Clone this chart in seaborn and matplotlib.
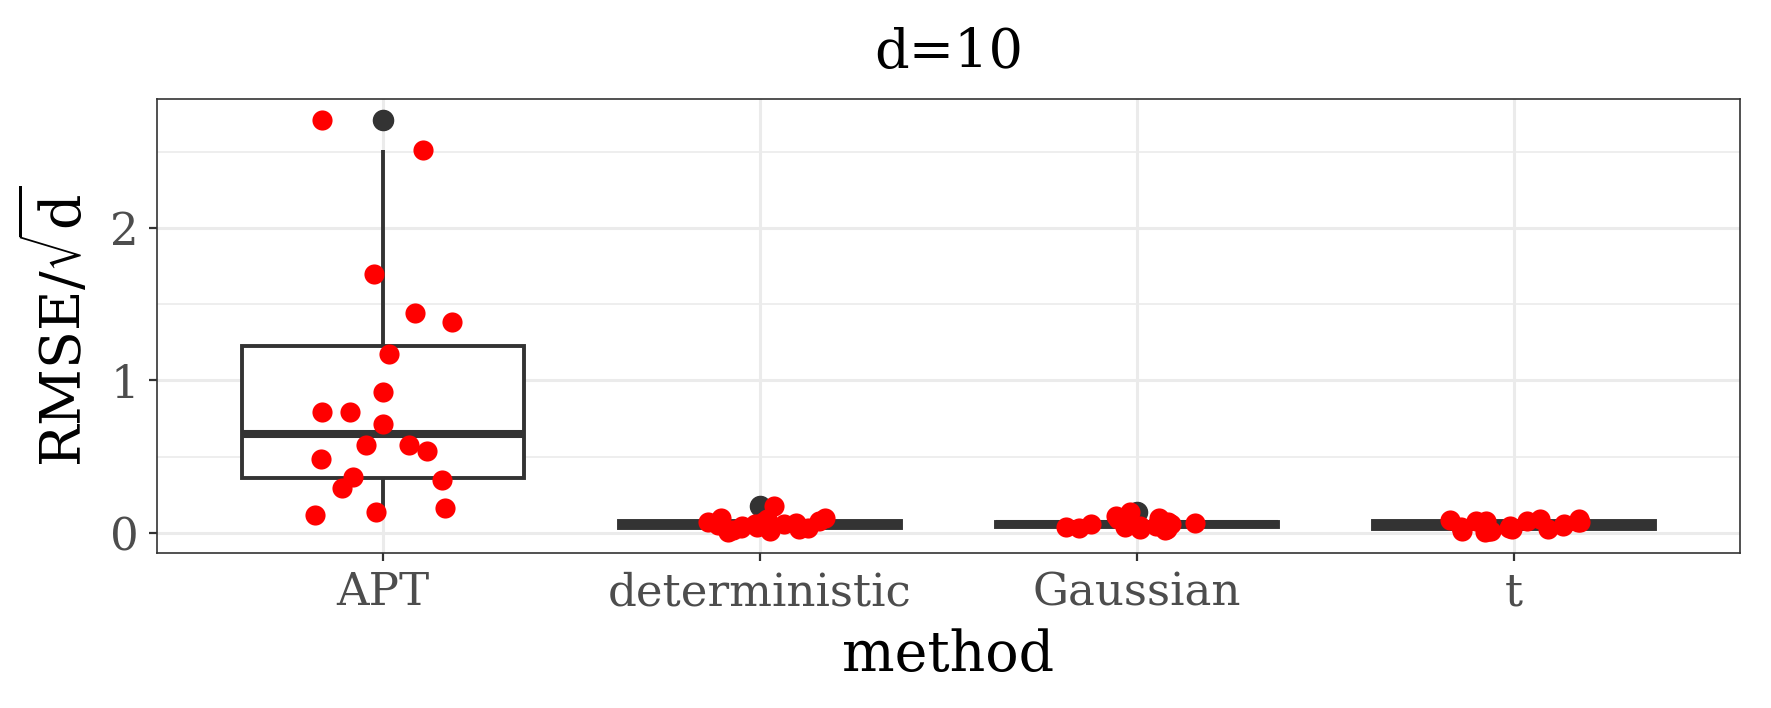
import numpy as np
import pandas as pd
import matplotlib
matplotlib.use("Agg")
import matplotlib.pyplot as plt
import seaborn as sns

# ---- data ----
methods = ["APT", "deterministic", "Gaussian", "t"]
apt_vals = [2.71, 2.51, 1.70, 1.44, 1.38, 1.176, 0.922, 0.79, 0.79, 0.716,
            0.58, 0.536, 0.575, 0.488, 0.369, 0.347, 0.293, 0.137, 0.167, 0.119]
det_vals = [0.175, 0.10, 0.10, 0.091, 0.08, 0.074, 0.069, 0.065, 0.06, 0.059,
            0.055, 0.05, 0.048, 0.04, 0.035, 0.03, 0.026, 0.02, 0.015, 0.005]
gau_vals = [0.137, 0.113, 0.10, 0.091, 0.075, 0.069, 0.069, 0.065, 0.062, 0.059,
            0.059, 0.055, 0.048, 0.045, 0.04, 0.037, 0.032, 0.026, 0.026, 0.022]
t_vals = [0.091, 0.091, 0.085, 0.08, 0.08, 0.08, 0.075, 0.069, 0.06, 0.048,
          0.048, 0.04, 0.037, 0.03, 0.026, 0.026, 0.015, 0.015, 0.01, 0.004]
title_text = "d=10"
x_label = "method"
y_label = r"$\mathrm{RMSE}/\sqrt{\mathrm{d}}$"
y_ticks = [0, 1, 2]
y_minor = [0.5, 1.5, 2.5]

df = pd.DataFrame({
    "method": sum([[m] * len(v) for m, v in zip(methods, [apt_vals, det_vals, gau_vals, t_vals])], []),
    "value": apt_vals + det_vals + gau_vals + t_vals,
})

# ---- style ----
sns.set_theme(style="white")
plt.rcParams["font.family"] = ["DejaVu Serif"]
plt.rcParams["mathtext.fontset"] = "dejavuserif"

dark = "#333333"
grid_col = "#EBEBEB"

fig = plt.figure(figsize=(17.71, 7.08), dpi=100)
ax = fig.add_axes([157 / 1771, 1 - 553 / 708, (1740 - 157) / 1771, (553 - 99) / 708])

sns.boxplot(data=df, x="method", y="value", order=methods, ax=ax,
            width=0.75, color="white", linecolor=dark, linewidth=2.8,
            showcaps=False, whis=1.5, fliersize=14.5,
            flierprops=dict(marker="o", markerfacecolor=dark, markeredgecolor=dark),
            medianprops=dict(linewidth=5.8, color=dark),
            zorder=2)

np.random.seed(7)
sns.stripplot(data=df, x="method", y="value", order=methods, ax=ax,
              color="red", size=14.5, linewidth=0, jitter=0.19, zorder=5)

# limits like ggplot's expansion
vmin, vmax = min(df["value"]), max(df["value"])
pad = 0.05 * (vmax - vmin)
ax.set_ylim(vmin - pad, vmax + pad)
ax.set_xlim(-0.6, len(methods) - 0.4)

ax.set_yticks(y_ticks)
ax.set_yticklabels([str(v) for v in y_ticks])
ax.set_yticks(y_minor, minor=True)

ax.set_axisbelow(True)
ax.grid(which="major", color=grid_col, linewidth=2.2)
ax.grid(which="minor", axis="y", color=grid_col, linewidth=1.2)

for s in ax.spines.values():
    s.set_color(dark)
    s.set_linewidth(1.2)
    s.set_visible(True)

ax.tick_params(which="major", length=6, width=1.6, color=dark,
               labelsize=32.5, labelcolor="#4D4D4D", pad=7, bottom=True, left=True)
ax.tick_params(which="minor", length=0)

ax.set_xlabel(x_label, fontsize=40, color="black", labelpad=10)
ax.set_ylabel(y_label, fontsize=40, color="black", labelpad=12)
ax.set_title(title_text, fontsize=39, color="black", pad=22)

fig.savefig("out.png", dpi=100, facecolor="white")
